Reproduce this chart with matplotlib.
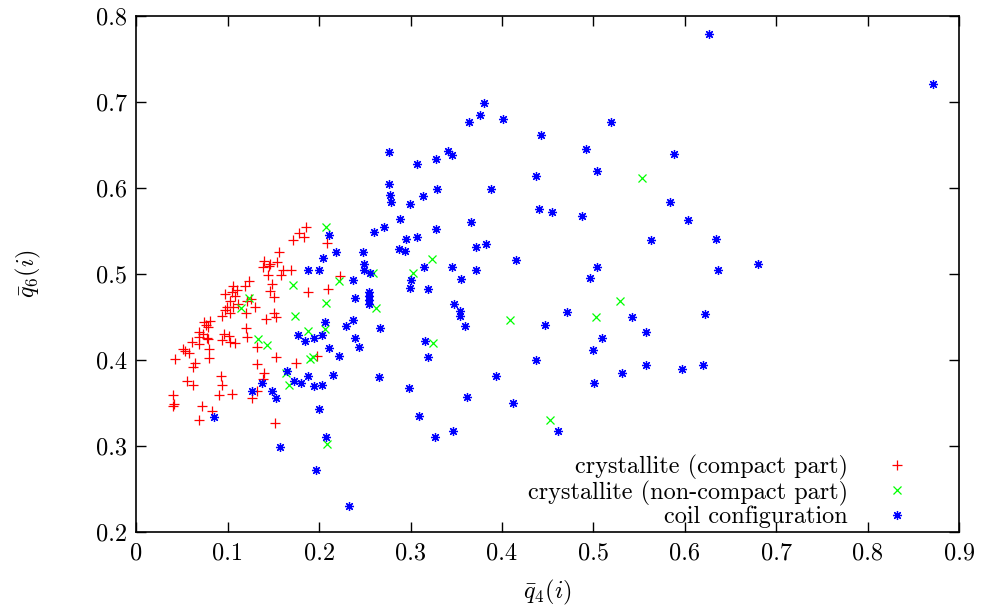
# q4/q6 bond-order scatter, gnuplot-like look

import matplotlib
matplotlib.use('Agg')
import matplotlib.pyplot as plt

# crystallite, compact part
red_q4 = [0.186, 0.178, 0.183, 0.171, 0.156, 0.140, 0.146, 0.154, 0.138, 0.145,
          0.160, 0.169, 0.144, 0.158, 0.148, 0.123, 0.119, 0.106, 0.146, 0.150,
          0.104, 0.110, 0.097, 0.108, 0.102, 0.121, 0.125, 0.111, 0.099, 0.106,
          0.130, 0.097, 0.102, 0.094, 0.120, 0.150, 0.153, 0.142, 0.074, 0.080,
          0.076, 0.078, 0.068, 0.073, 0.120, 0.121, 0.096, 0.101, 0.094, 0.102,
          0.108, 0.068, 0.077, 0.061, 0.068, 0.078, 0.051, 0.057, 0.079, 0.132,
          0.153, 0.079, 0.042, 0.053, 0.064, 0.062, 0.132, 0.175, 0.092, 0.140,
          0.138, 0.055, 0.062, 0.094, 0.132, 0.040, 0.090, 0.105, 0.126, 0.040,
          0.041, 0.072, 0.083, 0.068, 0.152, 0.208, 0.223, 0.210, 0.188, 0.198]
red_q6 = [0.554, 0.547, 0.543, 0.539, 0.525, 0.515, 0.512, 0.514, 0.508, 0.509,
          0.505, 0.505, 0.499, 0.499, 0.488, 0.492, 0.486, 0.486, 0.480, 0.473,
          0.479, 0.481, 0.477, 0.474, 0.468, 0.469, 0.471, 0.465, 0.462, 0.461,
          0.461, 0.458, 0.455, 0.451, 0.455, 0.455, 0.450, 0.448, 0.444, 0.445,
          0.441, 0.438, 0.433, 0.430, 0.437, 0.427, 0.430, 0.428, 0.423, 0.421,
          0.420, 0.427, 0.425, 0.421, 0.419, 0.424, 0.413, 0.408, 0.413, 0.415,
          0.403, 0.402, 0.401, 0.410, 0.397, 0.392, 0.395, 0.396, 0.381, 0.385,
          0.378, 0.376, 0.371, 0.371, 0.364, 0.359, 0.359, 0.361, 0.356, 0.346,
          0.349, 0.347, 0.341, 0.330, 0.327, 0.536, 0.498, 0.483, 0.479, 0.405]

# crystallite, non-compact part
green_q4 = [0.171, 0.123, 0.114, 0.173, 0.133, 0.143, 0.188, 0.164, 0.167, 0.207,
            0.222, 0.259, 0.207, 0.262, 0.303, 0.323, 0.206, 0.325, 0.193, 0.190,
            0.209, 0.553, 0.529, 0.503, 0.409, 0.453]
green_q6 = [0.487, 0.472, 0.460, 0.451, 0.424, 0.418, 0.434, 0.385, 0.371, 0.555,
            0.492, 0.501, 0.466, 0.460, 0.501, 0.517, 0.436, 0.420, 0.404, 0.401,
            0.303, 0.611, 0.469, 0.450, 0.447, 0.330]

# coil configuration
blue_q4 = [0.188, 0.177, 0.184, 0.165, 0.172, 0.180, 0.188, 0.137, 0.126, 0.148,
           0.153, 0.085, 0.157, 0.211, 0.218, 0.204, 0.200, 0.248, 0.260, 0.271,
           0.288, 0.295, 0.307, 0.287, 0.294, 0.328, 0.366, 0.372, 0.249, 0.249,
           0.256, 0.237, 0.315, 0.300, 0.299, 0.319, 0.345, 0.355, 0.372, 0.239,
           0.254, 0.254, 0.254, 0.254, 0.347, 0.354, 0.354, 0.359, 0.206, 0.237,
           0.229, 0.266, 0.203, 0.194, 0.239, 0.243, 0.211, 0.222, 0.316, 0.319,
           0.215, 0.194, 0.203, 0.265, 0.298, 0.362, 0.200, 0.309, 0.346, 0.327,
           0.207, 0.196, 0.233, 0.380, 0.376, 0.364, 0.401, 0.276, 0.307, 0.328,
           0.341, 0.345, 0.276, 0.277, 0.278, 0.299, 0.313, 0.329, 0.388, 0.626,
           0.519, 0.443, 0.492, 0.588, 0.437, 0.504, 0.440, 0.455, 0.487, 0.584,
           0.603, 0.634, 0.563, 0.382, 0.415, 0.504, 0.496, 0.636, 0.471, 0.447,
           0.542, 0.622, 0.557, 0.509, 0.500, 0.437, 0.557, 0.597, 0.620, 0.531,
           0.393, 0.501, 0.412, 0.461, 0.871, 0.680]
blue_q6 = [0.505, 0.429, 0.422, 0.387, 0.376, 0.373, 0.381, 0.373, 0.364, 0.364,
           0.356, 0.334, 0.299, 0.545, 0.526, 0.518, 0.505, 0.526, 0.549, 0.555,
           0.564, 0.540, 0.543, 0.529, 0.527, 0.552, 0.560, 0.531, 0.512, 0.504,
           0.501, 0.493, 0.508, 0.493, 0.484, 0.482, 0.508, 0.494, 0.505, 0.472,
           0.479, 0.474, 0.470, 0.465, 0.465, 0.457, 0.451, 0.440, 0.444, 0.446,
           0.439, 0.437, 0.429, 0.426, 0.425, 0.415, 0.414, 0.405, 0.422, 0.403,
           0.382, 0.370, 0.371, 0.380, 0.368, 0.357, 0.343, 0.335, 0.318, 0.310,
           0.311, 0.272, 0.230, 0.698, 0.685, 0.676, 0.680, 0.642, 0.628, 0.634,
           0.643, 0.638, 0.604, 0.592, 0.584, 0.581, 0.590, 0.599, 0.599, 0.779,
           0.676, 0.661, 0.645, 0.639, 0.614, 0.620, 0.575, 0.572, 0.567, 0.584,
           0.563, 0.541, 0.539, 0.535, 0.516, 0.508, 0.495, 0.505, 0.456, 0.441,
           0.450, 0.453, 0.433, 0.425, 0.412, 0.400, 0.394, 0.390, 0.394, 0.385,
           0.381, 0.373, 0.350, 0.318, 0.721, 0.511]

x_ticks = [0, 0.1, 0.2, 0.3, 0.4, 0.5, 0.6, 0.7, 0.8, 0.9]
y_ticks = [0.2, 0.3, 0.4, 0.5, 0.6, 0.7, 0.8]

plt.rcParams['font.family'] = ['cmr10', 'DejaVu Serif']
plt.rcParams['mathtext.fontset'] = 'cm'
plt.rcParams['axes.formatter.use_mathtext'] = True
plt.rcParams['font.size'] = 17.5

fig = plt.figure(figsize=(9.81, 6.12), dpi=100)
ax = fig.add_axes([0.1391, 0.1304, 0.8385, 0.8441])

ax.plot(red_q4, red_q6, ls='none', marker='+', ms=7, mew=0.9, color='#ff0000',
        label='crystallite (compact part)')
ax.plot(green_q4, green_q6, ls='none', marker='x', ms=5.5, mew=0.9, color='#00ff00',
        label='crystallite (non-compact part)')
ax.plot(blue_q4, blue_q6, ls='none', marker=(8, 2, 0), ms=6.5, mew=0.9, color='#0000ff',
        label='coil configuration')

ax.set_xlim(0, 0.9)
ax.set_ylim(0.2, 0.8)
ax.set_xticks(x_ticks)
ax.set_yticks(y_ticks)
ax.set_xticklabels(['0'] + ['%.1f' % t for t in x_ticks[1:]])
ax.set_yticklabels(['%.1f' % t for t in y_ticks])
ax.tick_params(direction='in', length=7, width=1, top=True, right=True, pad=7)
for s in ax.spines.values():
    s.set_linewidth(1.2)

ax.set_xlabel(r'$\bar{q}_4(i)$', labelpad=10)
ax.set_ylabel(r'$\bar{q}_6(i)$', labelpad=38)

ax.legend(loc='lower right', bbox_to_anchor=(0.939, 0.008), markerfirst=False,
          frameon=False, handlelength=1.0, handletextpad=1.5, labelspacing=0.0,
          borderaxespad=0, borderpad=0, fontsize=17.5)

fig.savefig('out.png', dpi=100)
